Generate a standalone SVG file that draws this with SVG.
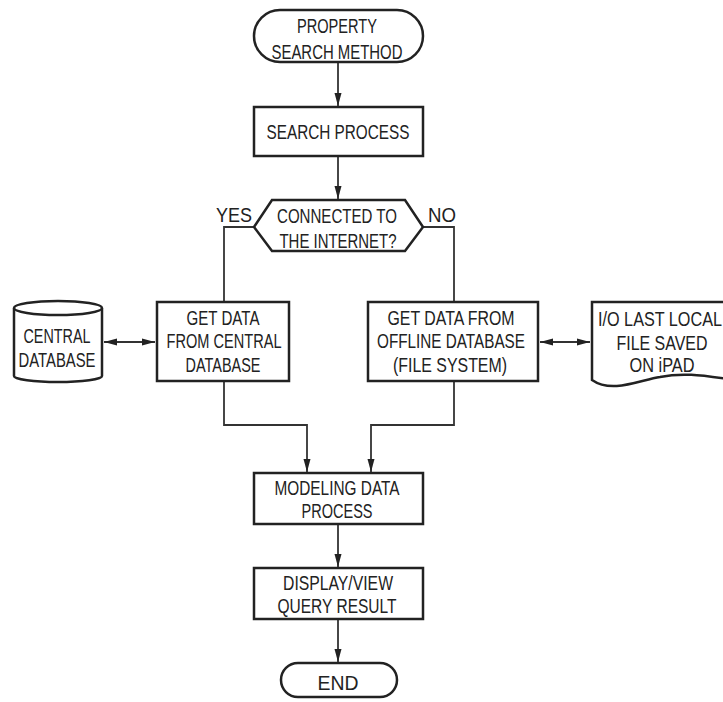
<svg xmlns="http://www.w3.org/2000/svg" width="723" height="702" viewBox="0 0 723 702">
<style>
.s{fill:#fff;stroke:#222;stroke-width:2.5}
.c{fill:none;stroke:#333;stroke-width:1.8}
text{font-family:"Liberation Sans",Arial,sans-serif;font-size:20px;fill:#222;text-anchor:middle}
</style>
<defs>
<marker id="ah" markerUnits="userSpaceOnUse" markerWidth="14" markerHeight="8" refX="13" refY="4" orient="auto-start-reverse">
<path d="M0,0.5 L13,4 L0,7.5 z" fill="#222"/>
</marker>
</defs>
<rect width="723" height="702" fill="#fff"/>
<g id="connectors">
<line class="c" x1="338" y1="62" x2="338" y2="106" marker-end="url(#ah)"/>
<line class="c" x1="338" y1="156" x2="338" y2="199" marker-end="url(#ah)"/>
<polyline class="c" points="254,227 224,227 224,302"/>
<polyline class="c" points="423,227 454,227 454,302"/>
<polyline class="c" points="224,381 224,425 307,425 307,472" marker-end="url(#ah)"/>
<polyline class="c" points="454,381 454,425 371,425 371,472" marker-end="url(#ah)"/>
<line class="c" x1="338" y1="524" x2="338" y2="567" marker-end="url(#ah)"/>
<line class="c" x1="338" y1="619" x2="338" y2="662" marker-end="url(#ah)"/>
<line class="c" x1="104" y1="342" x2="155" y2="342" marker-start="url(#ah)" marker-end="url(#ah)"/>
<line class="c" x1="540" y1="342" x2="590" y2="342" marker-start="url(#ah)" marker-end="url(#ah)"/>
</g>
<g id="start">
<rect class="s" x="254" y="10" width="169" height="52" rx="26"/>
<text x="337" y="33" textLength="80" lengthAdjust="spacingAndGlyphs">PROPERTY</text>
<text x="337" y="59" textLength="131" lengthAdjust="spacingAndGlyphs">SEARCH METHOD</text>
</g>
<g id="search">
<rect class="s" x="254" y="107" width="169" height="49"/>
<text x="338" y="139" textLength="143" lengthAdjust="spacingAndGlyphs">SEARCH PROCESS</text>
</g>
<g id="decision">
<polygon class="s" points="272,200 405,200 423,227 405,251 272,251 254,227"/>
<text x="337" y="223" textLength="120" lengthAdjust="spacingAndGlyphs">CONNECTED TO</text>
<text x="338" y="248" textLength="117" lengthAdjust="spacingAndGlyphs">THE INTERNET?</text>
<text x="234" y="222" textLength="36" lengthAdjust="spacingAndGlyphs">YES</text>
<text x="442" y="222" textLength="28" lengthAdjust="spacingAndGlyphs">NO</text>
</g>
<g id="central-db">
<path class="s" d="M14,308 V376 A44,6 0 0 0 102,376 V308"/>
<ellipse class="s" cx="58" cy="308" rx="44" ry="7"/>
<text x="57" y="343" textLength="67" lengthAdjust="spacingAndGlyphs">CENTRAL</text>
<text x="57" y="367" textLength="77" lengthAdjust="spacingAndGlyphs">DATABASE</text>
</g>
<g id="get-central">
<rect class="s" x="157" y="302" width="132" height="79"/>
<text x="223" y="325" textLength="73" lengthAdjust="spacingAndGlyphs">GET DATA</text>
<text x="224" y="348" textLength="115" lengthAdjust="spacingAndGlyphs">FROM CENTRAL</text>
<text x="223" y="372" textLength="75" lengthAdjust="spacingAndGlyphs">DATABASE</text>
</g>
<g id="get-offline">
<rect class="s" x="368" y="302" width="170" height="79"/>
<text x="451" y="325" textLength="127" lengthAdjust="spacingAndGlyphs">GET DATA FROM</text>
<text x="451" y="348" textLength="148" lengthAdjust="spacingAndGlyphs">OFFLINE DATABASE</text>
<text x="450" y="372" textLength="114" lengthAdjust="spacingAndGlyphs">(FILE SYSTEM)</text>
</g>
<g id="local-file">
<path class="s" d="M735,302 H592 V380 C612,394 640,380 660,377 C685,372 705,376 735,380"/>
<text x="660" y="326" textLength="124" lengthAdjust="spacingAndGlyphs">I/O LAST LOCAL</text>
<text x="662" y="350" textLength="91" lengthAdjust="spacingAndGlyphs">FILE SAVED</text>
<text x="662" y="372" textLength="65" lengthAdjust="spacingAndGlyphs">ON iPAD</text>
</g>
<g id="modeling">
<rect class="s" x="254" y="473" width="169" height="51"/>
<text x="337" y="495" textLength="125" lengthAdjust="spacingAndGlyphs">MODELING DATA</text>
<text x="337" y="518" textLength="71" lengthAdjust="spacingAndGlyphs">PROCESS</text>
</g>
<g id="display">
<rect class="s" x="254" y="568" width="169" height="51"/>
<text x="338" y="590" textLength="110" lengthAdjust="spacingAndGlyphs">DISPLAY/VIEW</text>
<text x="337" y="613" textLength="119" lengthAdjust="spacingAndGlyphs">QUERY RESULT</text>
</g>
<g id="end">
<rect class="s" x="281" y="663" width="116" height="34" rx="17"/>
<text x="338" y="690" textLength="41" lengthAdjust="spacingAndGlyphs">END</text>
</g>
</svg>
